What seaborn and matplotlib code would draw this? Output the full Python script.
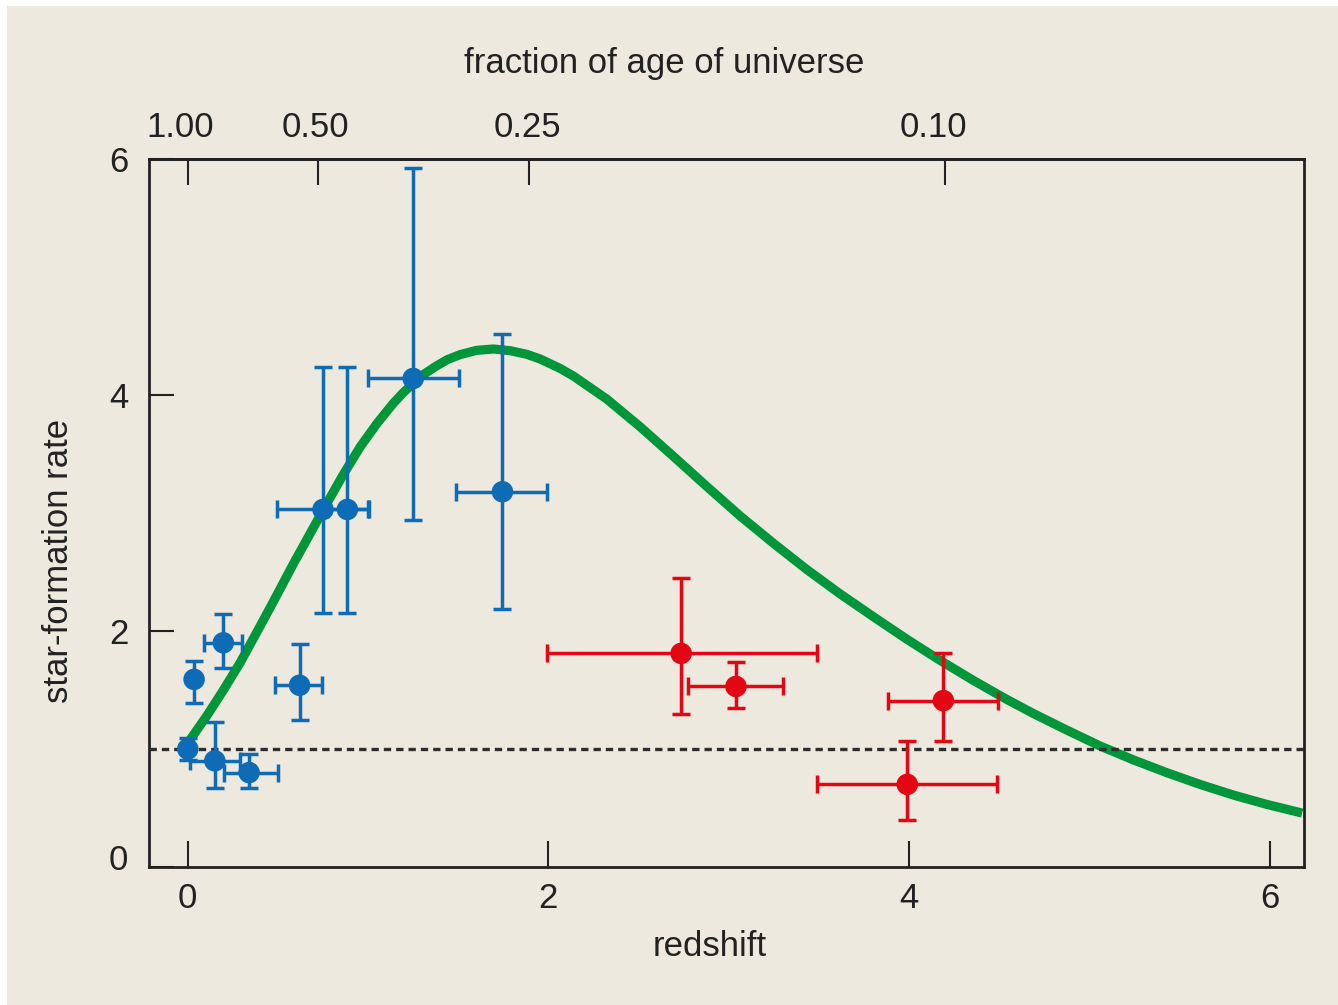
import matplotlib
matplotlib.use("Agg")
import matplotlib.pyplot as plt
from matplotlib.patches import Rectangle
from matplotlib.transforms import ScaledTranslation
import pandas as pd
import seaborn as sns

# Low-redshift measurements (blue)
blue_z = [0.00, 0.035, 0.197, 0.15, 0.34, 0.62, 0.75, 0.885, 1.25, 1.745]
blue_sfr = [1.00, 1.59, 1.90, 0.90, 0.80, 1.54, 3.03, 3.03, 4.14, 3.18]
blue_z_lo = [0.0, 0.0, 0.107, 0.14, 0.14, 0.135, 0.255, 0.115, 0.253, 0.257]
blue_z_hi = [0.0, 0.0, 0.103, 0.14, 0.16, 0.125, 0.255, 0.115, 0.255, 0.248]
blue_sfr_lo = [0.09, 0.20, 0.21, 0.23, 0.13, 0.29, 0.88, 0.88, 1.20, 0.99]
blue_sfr_hi = [0.09, 0.16, 0.24, 0.33, 0.16, 0.35, 1.21, 1.21, 1.78, 1.34]

# High-redshift measurements (red)
red_z = [2.736, 3.04, 4.19, 3.99]
red_sfr = [1.81, 1.53, 1.41, 0.70]
red_z_lo = [0.746, 0.265, 0.305, 0.50]
red_z_hi = [0.754, 0.26, 0.305, 0.50]
red_sfr_lo = [0.51, 0.18, 0.34, 0.30]
red_sfr_hi = [0.64, 0.21, 0.40, 0.37]

# Model star-formation history
model_z = [0.00, 0.105, 0.198, 0.29, 0.383, 0.475, 0.586, 0.68, 0.771, 0.86,
           0.956, 1.05, 1.14, 1.195, 1.251, 1.31, 1.381, 1.44, 1.51, 1.60,
           1.695, 1.79, 1.88, 1.954, 2.065, 2.139, 2.324, 2.509, 2.693,
           2.878, 3.063, 3.248, 3.432, 3.617, 3.803, 3.988, 4.173, 4.361,
           4.542, 4.690, 4.875, 5.06, 5.245, 5.43, 5.615, 5.80, 5.985, 6.18]
model_sfr = [1.05, 1.28, 1.50, 1.73, 1.99, 2.25, 2.57, 2.83, 3.08, 3.32,
             3.56, 3.76, 3.93, 4.02, 4.10, 4.177, 4.248, 4.30, 4.342, 4.378,
             4.39, 4.375, 4.345, 4.305, 4.225, 4.16, 3.965, 3.73, 3.48,
             3.225, 2.975, 2.743, 2.522, 2.315, 2.12, 1.93, 1.75, 1.577,
             1.42, 1.30, 1.16, 1.025, 0.907, 0.799, 0.699, 0.609, 0.530, 0.457]

# Top axis: fraction of the age of the universe at the given redshift
age_fraction_z = [0.0, 0.72, 1.89, 4.20]
age_fraction_labels = ["1.00", "0.50", "0.25", "0.10"]

redshift_ticks = [0, 2, 4, 6]
sfr_ticks = [0, 2, 4, 6]
reference_level = 1.0

BG = "#EDE9DE"
BLUE = "#0E6BB6"
RED = "#E30613"
GREEN = "#009639"
INK = "#222222"
FSIZE = 25

sns.set_theme(style="ticks")
plt.rcParams["font.family"] = ["Liberation Sans", "DejaVu Sans"]
plt.rcParams["axes.unicode_minus"] = False

W, H = 1338, 1005
fig = plt.figure(figsize=(W / 100, H / 100), dpi=100, facecolor=BG)
fig.add_artist(Rectangle((0, 0), 7 / W, 1, transform=fig.transFigure,
                         facecolor="white", edgecolor="none", zorder=-5))
fig.add_artist(Rectangle((0, 1 - 6 / H), 1, 6 / H, transform=fig.transFigure,
                         facecolor="white", edgecolor="none", zorder=-5))

ax = fig.add_axes([149 / W, 1 - 867 / H, (1304 - 149) / W, (867 - 159) / H])
ax.set_facecolor(BG)

model = pd.DataFrame({"z": model_z, "sfr": model_sfr})
sns.lineplot(data=model, x="z", y="sfr", ax=ax, color=GREEN, lw=6.6,
             sort=False, estimator=None, solid_capstyle="butt",
             solid_joinstyle="round", zorder=2)

ax.axhline(reference_level, color="#2E2E2E", lw=2.4, ls=(0, (2.2, 1.5)), zorder=3)

err_kw = dict(fmt="none", elinewidth=2.5, capsize=6.5, capthick=2.5, zorder=4)
ax.errorbar(blue_z, blue_sfr, xerr=[blue_z_lo, blue_z_hi],
            yerr=[blue_sfr_lo, blue_sfr_hi], ecolor=BLUE, **err_kw)
ax.errorbar(red_z, red_sfr, xerr=[red_z_lo, red_z_hi],
            yerr=[red_sfr_lo, red_sfr_hi], ecolor=RED, **err_kw)

points = pd.concat([
    pd.DataFrame({"z": blue_z, "sfr": blue_sfr, "set": "low"}),
    pd.DataFrame({"z": red_z, "sfr": red_sfr, "set": "high"}),
])
sns.scatterplot(data=points, x="z", y="sfr", hue="set",
                palette={"low": BLUE, "high": RED}, s=240, linewidth=0,
                legend=False, ax=ax, zorder=5)

ax.set_xlim(-0.215, 6.19)
ax.set_ylim(0, 6.0)
ax.set_xticks(redshift_ticks)
ax.set_yticks(sfr_ticks)
ax.set_xticklabels([str(t) for t in redshift_ticks])
ax.set_yticklabels([str(t) for t in sfr_ticks])

for side in ["left", "right", "top", "bottom"]:
    ax.spines[side].set_visible(True)
    ax.spines[side].set_color(INK)
    ax.spines[side].set_linewidth(2.0)

ax.tick_params(axis="x", direction="in", length=19, width=1.5, color=INK,
               labelsize=FSIZE, labelcolor=INK, pad=11, top=False)
ax.tick_params(axis="y", direction="in", length=18, width=1.5, color=INK,
               labelsize=FSIZE, labelcolor=INK, pad=15, right=False)

# nudge the y-axis "0" up, clear of the bottom-axis "0"
ylabels = ax.get_yticklabels()
ylabels[0].set_transform(ylabels[0].get_transform() +
                         ScaledTranslation(0, 0.10, fig.dpi_scale_trans))

sec = ax.secondary_xaxis("top")
sec.set_xticks(age_fraction_z)
sec.set_xticklabels(age_fraction_labels)
sec.spines["top"].set_linewidth(2.0)
sec.spines["top"].set_color(INK)
sec.tick_params(axis="x", direction="in", length=19, width=1.5, color=INK,
                labelsize=FSIZE, labelcolor=INK, pad=11)

# the outer age labels sit a little left of their ticks
top_labels = sec.get_xticklabels()
for lbl, dx in zip(top_labels, [-0.08, -0.02, -0.01, -0.12]):
    lbl.set_transform(lbl.get_transform() +
                      ScaledTranslation(dx, 0, fig.dpi_scale_trans))

ax.set_xlabel("redshift", fontsize=FSIZE, color=INK, va="baseline")
ax.xaxis.set_label_coords(710 / W, 1 - 956 / H, transform=fig.transFigure)
ax.set_ylabel("star-formation rate", fontsize=FSIZE, color=INK,
              va="center", ha="center")
ax.yaxis.set_label_coords(59 / W, 1 - 561 / H, transform=fig.transFigure)
sec.set_xlabel("fraction of age of universe", fontsize=FSIZE, color=INK,
               va="baseline")
sec.xaxis.set_label_coords(664 / W, 1 - 73 / H, transform=fig.transFigure)

fig.savefig("out.png", dpi=100, facecolor=BG)
